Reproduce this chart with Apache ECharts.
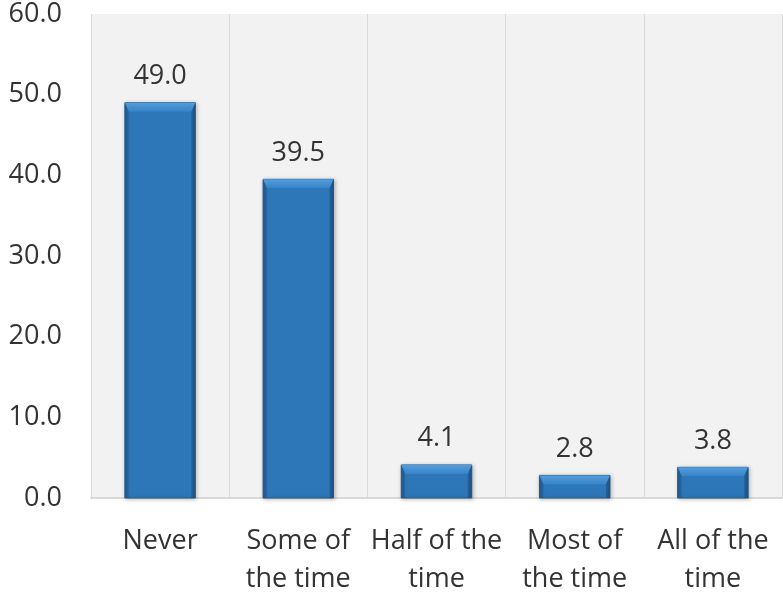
<!DOCTYPE html>
<html>
<head>
<meta charset="utf-8">
<script src="https://cdn.jsdelivr.net/npm/echarts@6/dist/echarts.min.js"></script>
<style>
  html, body { margin: 0; padding: 0; background: #ffffff; }
  #chart { width: 783px; height: 598px; }
</style>
</head>
<body>
<div id="chart"></div>
<script>
// Response categories and their percentages
const categories = ['Never', 'Some of\nthe time', 'Half of the\ntime', 'Most of\nthe time', 'All of the\ntime'];
const values = [49.0, 39.5, 4.1, 2.8, 3.8];
const yTicks = { min: 0, max: 60, interval: 10 };

const FONT = '"Open Sans", "Noto Sans", sans-serif';
const TEXT = '#333333';

// Bevelled bar: body, lighter top bevel, darker sides, value label above
function renderBar(params, api) {
  const idx = api.value(0);
  const val = api.value(1);
  const top = api.coord([idx, val]);
  const base = api.coord([idx, 0]);
  const w = api.size([1, 0])[0] * 0.51;
  const x0 = top[0] - w / 2;
  const x1 = top[0] + w / 2;
  const y0 = top[1];
  const y1 = base[1];
  const h = y1 - y0;
  const b = Math.min(9, h / 2);
  const s = Math.min(4, w / 6);
  return {
    type: 'group',
    children: [
      {
        type: 'rect',
        shape: { x: x0, y: y0, width: w, height: h },
        style: {
          fill: {
            type: 'linear', x: 0, y: 0, x2: 1, y2: 0,
            colorStops: [
              { offset: 0, color: '#235f97' },
              { offset: 0.06, color: '#2d76b8' },
              { offset: 0.94, color: '#2d76b8' },
              { offset: 1, color: '#1f5a90' }
            ]
          },
          stroke: '#2a5f8f',
          lineWidth: 1,
          shadowBlur: 4,
          shadowColor: 'rgba(0,0,0,0.25)',
          shadowOffsetX: 1,
          shadowOffsetY: 1
        }
      },
      {
        type: 'polygon',
        shape: { points: [[x0, y0], [x1, y0], [x1 - s, y0 + b], [x0 + s, y0 + b]] },
        style: {
          fill: {
            type: 'linear', x: 0, y: 0, x2: 0, y2: 1,
            colorStops: [
              { offset: 0, color: '#559ddc' },
              { offset: 1, color: '#3683c6' }
            ]
          }
        }
      },
      {
        type: 'polygon',
        shape: { points: [[x1, y0], [x1, y1], [x1 - s, y1], [x1 - s, y0 + b]] },
        style: { fill: 'rgba(20,60,100,0.35)' }
      },
      {
        type: 'polygon',
        shape: { points: [[x0, y0], [x0, y1], [x0 + s, y1], [x0 + s, y0 + b]] },
        style: { fill: 'rgba(20,60,100,0.2)' }
      },
      {
        type: 'text',
        style: {
          text: val.toFixed(1),
          x: top[0],
          y: y0 - 13,
          align: 'center',
          verticalAlign: 'bottom',
          fill: TEXT,
          font: '27px ' + FONT
        }
      }
    ]
  };
}

const chart = echarts.init(document.getElementById('chart'), null, { renderer: 'canvas' });
chart.setOption({
  animation: false,
  backgroundColor: '#ffffff',
  grid: {
    left: 91, right: 1, top: 14, bottom: 100,
    show: true, backgroundColor: '#f2f2f2', borderWidth: 0
  },
  xAxis: {
    type: 'category',
    data: categories,
    boundaryGap: true,
    axisLine: { show: true, lineStyle: { color: '#d9d9d9', width: 2 } },
    axisTick: { show: false },
    splitLine: { show: true, lineStyle: { color: '#dadada', width: 1 } },
    axisLabel: {
      interval: 0,
      margin: 24,
      color: TEXT,
      fontFamily: FONT,
      fontSize: 27,
      lineHeight: 38
    }
  },
  yAxis: {
    type: 'value',
    min: yTicks.min,
    max: yTicks.max,
    interval: yTicks.interval,
    axisLine: { show: false },
    axisTick: { show: false },
    splitLine: { show: false },
    axisLabel: {
      margin: 29,
      color: TEXT,
      fontFamily: FONT,
      fontSize: 27,
      formatter: v => v.toFixed(1)
    }
  },
  series: [{
    type: 'custom',
    renderItem: renderBar,
    encode: { x: 0, y: 1 },
    data: values.map((v, i) => [i, v]),
    clip: false
  }]
});
</script>
</body>
</html>
